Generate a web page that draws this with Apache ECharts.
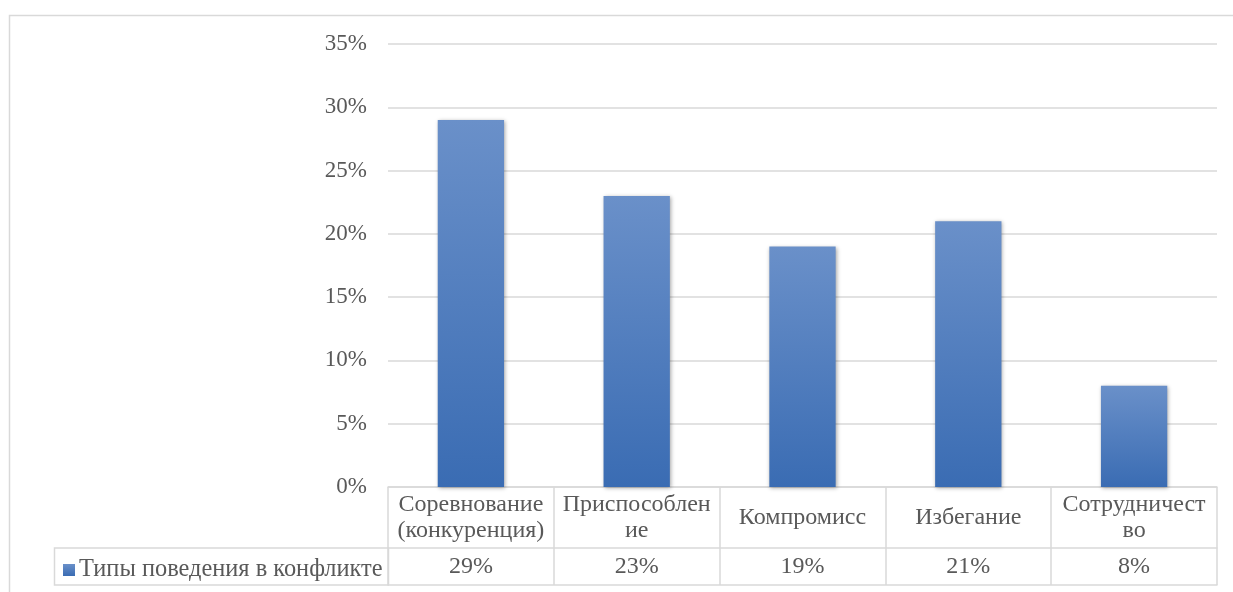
<!DOCTYPE html>
<html>
<head>
<meta charset="utf-8">
<script src="https://cdn.jsdelivr.net/npm/echarts@6/dist/echarts.min.js"></script>
<style>
  html, body { margin: 0; padding: 0; background: #ffffff; }
  #chart { width: 1233px; height: 592px; }
</style>
</head>
<body>
<div id="chart"></div>
<script>
// Categories, values and tick labels of the chart
const categories = ['Соревнование\n(конкуренция)', 'Приспособлен\nие', 'Компромисс', 'Избегание', 'Сотрудничест\nво'];
const values = [0.29, 0.23, 0.19, 0.21, 0.08];
const seriesName = 'Типы поведения в конфликте';
const yTicks = [0, 0.05, 0.10, 0.15, 0.20, 0.25, 0.30, 0.35];

const FONT = '"Liberation Serif", "Times New Roman", serif';
const TEXT = '#595959';
const LINE = '#d9d9d9';
const FS = 24;

const pct = v => Math.round(v * 100) + '%';

const chart = echarts.init(document.getElementById('chart'), null, { renderer: 'canvas' });

chart.setOption({
  animation: false,
  backgroundColor: '#ffffff',
  textStyle: { fontFamily: FONT },
  grid: { left: 388, right: 16, top: 44, bottom: 105, containLabel: false },
  legend: {
    data: [seriesName],
    left: 58, top: 553,
    itemWidth: 12, itemHeight: 12, itemGap: 0,
    icon: 'rect',
    textStyle: { fontFamily: FONT, fontSize: 24.4, color: TEXT, padding: [0, 0, 0, -1] }
  },
  xAxis: [
    {
      type: 'category', data: categories, position: 'bottom',
      axisLine: { show: true, lineStyle: { color: LINE, width: 1.5 } },
      axisTick: { show: true, interval: 0, length: 98, lineStyle: { color: LINE, width: 1.5 } },
      axisLabel: {
        interval: 0, margin: 31, verticalAlign: 'middle', lineHeight: 26,
        fontFamily: FONT, fontSize: FS, color: TEXT
      }
    },
    {
      type: 'category', data: categories, position: 'bottom', offset: 61,
      axisLine: { show: true, lineStyle: { color: LINE, width: 1.5 } },
      axisTick: { show: false },
      axisLabel: {
        interval: 0, margin: 19, verticalAlign: 'middle',
        fontFamily: FONT, fontSize: FS, color: TEXT,
        formatter: (v, i) => pct(values[i])
      }
    },
    {
      type: 'category', data: categories, position: 'bottom', offset: 98,
      axisLine: { show: true, lineStyle: { color: LINE, width: 1.5 } },
      axisTick: { show: false },
      axisLabel: { show: false }
    }
  ],
  yAxis: {
    type: 'value', min: yTicks[0], max: yTicks[yTicks.length - 1], interval: 0.05,
    axisLine: { show: false }, axisTick: { show: false },
    splitLine: { lineStyle: { color: LINE, width: 1.5 } },
    axisLabel: { margin: 21, fontFamily: FONT, fontSize: 23, color: TEXT, formatter: v => pct(v) }
  },
  series: [{
    name: seriesName,
    type: 'bar',
    xAxisIndex: 0,
    data: values,
    barWidth: '40%',
    itemStyle: {
      color: new echarts.graphic.LinearGradient(0, 0, 0, 1, [
        { offset: 0, color: '#6a90c9' },
        { offset: 1, color: '#3a6cb3' }
      ]),
      shadowColor: 'rgba(0,0,0,0.35)', shadowBlur: 4, shadowOffsetX: 1, shadowOffsetY: 1
    }
  }],
  graphic: [
    // outer chart frame
    { type: 'rect', silent: true, shape: { x: 9.5, y: 15.5, width: 1400, height: 700 },
      style: { fill: 'none', stroke: LINE, lineWidth: 1.5 } },
    // legend cell of the data table
    { type: 'rect', silent: true, shape: { x: 54.5, y: 548, width: 334, height: 37 },
      style: { fill: 'none', stroke: LINE, lineWidth: 1.5 } }
  ]
});
</script>
</body>
</html>
